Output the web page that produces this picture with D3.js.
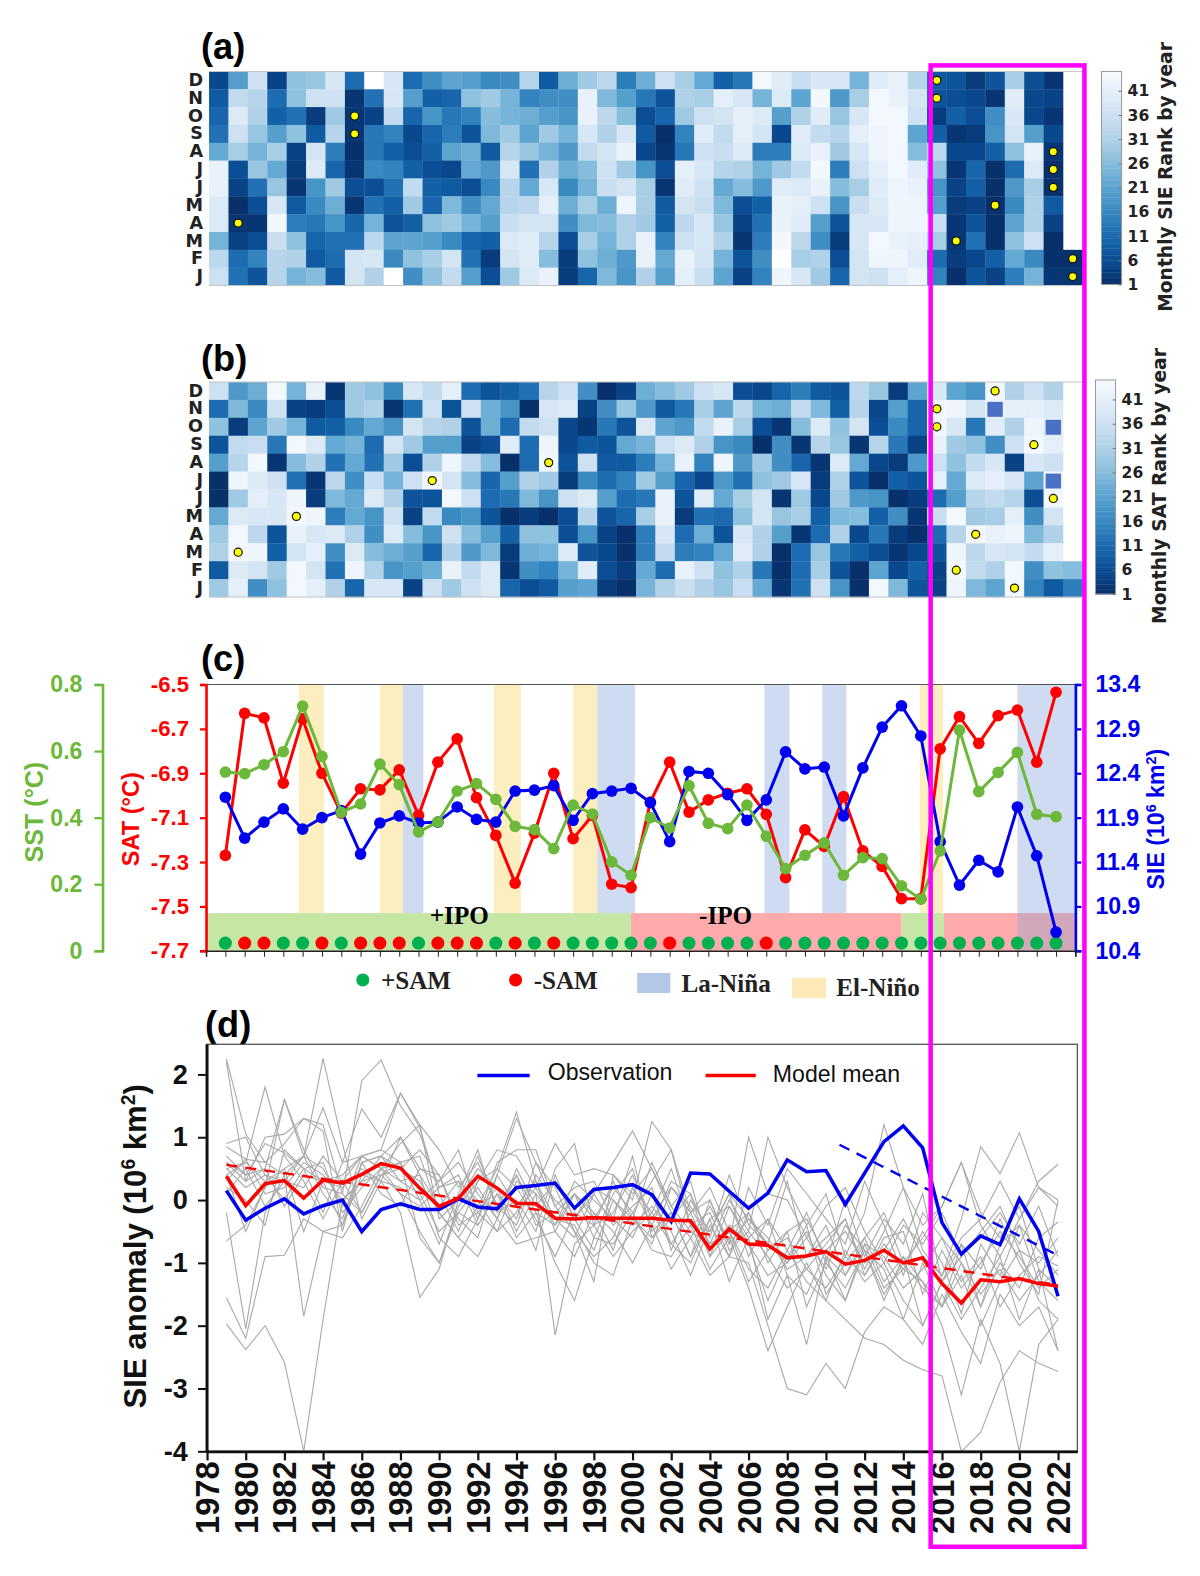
<!DOCTYPE html>
<html>
<head>
<meta charset="utf-8">
<script src="https://d3js.org/d3.v7.min.js"></script>
<style>
  html, body { margin: 0; padding: 0; background: #fff; }
  svg { display: block; }
</style>
</head>
<body>
<svg id="chart" width="1200" height="1576" viewBox="0 0 1194 1568" font-family="Liberation Sans, sans-serif"></svg>
<script>
// ── Data ──
const months = ['D', 'N', 'O', 'S', 'A', 'J', 'J', 'M', 'A', 'M', 'F', 'J'];
const heatYears = d3.range(1979, 2024);
const lineYears = d3.range(1979, 2023);
const rankTicks = [1, 6, 11, 16, 21, 26, 31, 36, 41];

// monthly rank, one row per month (top to bottom), 1979..2023
const sieRank = [
  [5,20,36,4,27,28,38,11,45,38,11,17,21,20,16,17,32,8,23,29,33,14,23,36,30,22,9,13,44,40,35,38,38,24,40,42,32,8,7,3,7,30,6,2,null],
  [8,34,32,11,27,36,36,2,12,38,20,9,10,27,29,24,15,17,17,42,25,20,13,7,31,30,41,38,24,39,21,44,19,30,44,42,37,7,6,5,2,40,5,4,null],
  [10,39,31,9,12,3,29,2,4,34,10,18,13,15,26,24,23,20,18,42,33,26,6,10,29,36,37,41,39,20,31,40,28,38,44,44,36,3,9,6,17,38,5,2,null],
  [12,36,28,20,27,8,32,2,13,15,5,10,14,7,25,29,21,29,24,38,31,38,8,1,15,40,34,41,37,5,40,34,32,41,43,44,21,9,2,3,18,37,20,5,null],
  [22,30,24,30,4,37,14,1,13,9,6,9,21,23,8,32,28,24,19,34,37,42,5,2,13,36,35,39,14,14,39,42,29,38,43,44,26,33,5,5,9,27,42,2,null],
  [42,6,28,22,3,39,10,2,16,15,9,6,5,22,19,38,12,31,23,26,36,29,18,6,41,38,32,31,24,29,34,44,14,36,41,44,40,27,2,10,1,11,39,1,null],
  [42,4,12,28,2,18,29,6,6,12,34,9,8,6,16,32,22,38,16,24,35,37,30,2,40,36,22,26,19,40,39,42,26,30,40,43,42,18,4,9,1,19,30,1,null],
  [39,1,6,38,8,16,23,2,12,9,29,10,25,17,22,32,33,41,23,30,23,43,30,8,37,35,25,6,9,42,41,36,18,35,39,43,43,20,3,4,1,16,31,8,null],
  [39,2,2,44,14,13,18,10,24,7,9,27,29,24,20,35,37,37,17,25,26,31,29,9,33,38,28,4,12,42,40,20,7,38,38,43,43,35,2,7,1,21,31,4,null],
  [24,4,6,35,27,10,12,12,33,21,21,20,16,10,9,39,40,32,6,30,24,31,42,15,36,38,31,2,14,44,33,17,3,38,44,42,41,30,2,12,1,27,36,1,null],
  [33,11,15,32,31,8,11,37,38,16,27,30,37,12,3,37,40,26,3,27,23,19,42,22,42,37,24,7,17,45,30,31,6,37,43,43,40,11,3,5,9,22,16,1,1],
  [36,12,7,32,24,26,8,37,31,45,17,27,34,20,6,29,39,42,3,10,25,18,31,20,41,35,21,4,15,43,38,29,10,37,36,41,43,15,1,7,4,14,24,2,2]
];
const satRank = [
  [36,19,23,44,24,42,2,29,27,16,38,34,41,11,7,9,12,32,36,17,1,4,23,26,29,36,38,6,5,10,14,8,7,33,28,3,21,38,21,18,44,31,36,31,null],
  [11,25,16,36,4,3,6,29,31,2,12,36,7,36,23,18,1,38,39,4,17,28,19,8,13,30,21,33,24,23,34,25,9,32,5,20,10,44,43,37,42,41,41,39,null],
  [27,3,21,29,24,8,9,16,22,18,37,32,31,7,23,11,34,36,5,2,13,7,39,21,19,34,42,30,6,2,26,39,27,37,6,16,10,44,38,13,40,31,43,40,null],
  [7,34,35,13,44,39,22,24,11,37,29,20,20,4,6,40,11,43,5,8,7,22,24,36,39,31,18,16,1,17,2,32,28,2,32,13,4,42,29,27,17,36,44,41,null],
  [20,32,44,2,26,31,12,22,12,29,6,31,43,34,26,1,11,44,7,36,8,8,14,24,42,15,43,19,29,17,10,2,39,22,5,3,19,36,27,34,38,4,38,36,null],
  [1,43,39,36,12,2,33,17,35,24,36,44,37,26,10,20,31,29,3,16,11,15,29,20,10,5,19,12,27,29,38,3,31,7,1,9,7,41,22,39,41,38,21,43,null],
  [1,29,41,38,43,3,25,22,39,31,7,7,44,36,11,13,25,18,36,39,20,11,13,42,7,40,22,30,37,2,29,5,29,19,18,1,3,11,20,32,34,32,6,44,null],
  [22,39,38,38,44,43,14,22,18,36,4,34,16,18,7,1,3,1,6,32,7,10,30,42,3,12,11,27,37,28,30,9,25,26,9,17,2,35,44,29,30,41,17,37,null],
  [29,44,33,7,42,38,39,31,17,39,26,18,36,26,20,9,27,27,6,18,4,1,14,38,11,23,7,38,31,20,2,11,31,5,13,3,1,11,32,44,42,43,25,31,null],
  [31,44,43,9,37,41,17,39,26,23,20,10,31,19,25,3,23,24,39,7,5,1,14,34,14,15,22,40,31,1,11,28,13,9,6,2,5,7,43,33,38,37,34,41,null],
  [8,39,37,29,44,37,12,43,31,18,20,23,42,34,39,2,17,15,24,40,6,3,22,11,42,36,27,31,13,1,11,30,7,1,21,5,9,4,44,34,31,44,17,27,26],
  [29,41,17,27,44,41,31,10,38,38,4,36,29,36,39,10,6,8,20,21,3,1,24,31,35,31,28,35,22,2,12,36,18,1,44,25,7,4,43,25,21,44,15,8,14]
];
// [year, row] of yellow dots
const sieDots = [[2016,0],[2016,1],[1986,2],[1986,3],[1980,8],[2022,4],[2022,5],[2022,6],[2019,7],[2017,9],[2023,10],[2023,11]];
const satDots = [[1980,9],[1983,7],[1990,5],[1996,4],[2019,0],[2016,1],[2016,2],[2021,3],[2022,6],[2018,8],[2017,10],[2020,11]];
const satSquares = [[2019,1],[2022,2],[2022,5]];

const sat = [-7.27,-6.63,-6.65,-6.945,-6.655,-6.9,-7.08,-6.97,-6.975,-6.885,-7.09,-6.85,-6.745,-7.01,-7.18,-7.395,-7.17,-6.9,-7.195,-7.09,-7.4,-7.415,-7.03,-6.85,-7.075,-7.02,-6.99,-6.97,-7.085,-7.37,-7.155,-7.23,-7.005,-7.25,-7.32,-7.465,-7.465,-6.79,-6.645,-6.765,-6.64,-6.615,-6.85,-6.535];
const sst = [.537,.532,.559,.598,.735,.584,.416,.441,.561,.499,.357,.387,.48,.502,.455,.374,.364,.307,.438,.411,.267,.227,.4,.369,.496,.383,.367,.438,.344,.247,.287,.324,.227,.28,.277,.195,.155,.3,.663,.478,.536,.596,.41,.403];
const sie = [12.13,11.67,11.85,12.0,11.77,11.9,11.98,11.49,11.84,11.92,11.84,11.85,12.02,11.88,11.85,12.2,12.21,12.26,11.87,12.17,12.2,12.23,12.07,11.63,12.42,12.4,12.16,11.87,12.1,12.64,12.45,12.47,11.92,12.46,12.92,13.16,12.82,11.63,11.14,11.42,11.29,12.02,11.47,10.61];
// 1 = +SAM, 0 = -SAM
const sam = [1,0,0,1,1,0,1,0,0,0,1,0,0,0,1,0,1,0,1,1,1,1,1,0,1,1,1,1,0,1,1,1,1,1,1,1,1,1,1,1,1,1,1,1];
const elNino = [[1982.8,1984.1],[1987,1988.2],[1992.9,1994.3],[1997,1998.25],[2014.95,2016.15]];
const laNina = [[1988.2,1989.25],[1998.25,2000.2],[2006.9,2008.2],[2009.9,2011.15],[2020,2023]];
const ipoPos = [[1978,2000],[2014,2016.2]];
const ipoNeg = [[2000,2014],[2016.2,2023]];

const obs = [.15,-.32,-.13,.02,-.22,-.09,0,-.5,-.15,-.06,-.15,-.15,.02,-.11,-.14,.2,.23,.27,-.13,.17,.2,.245,.085,-.34,.43,.415,.14,-.13,.11,.64,.45,.47,-.07,.43,.93,1.18,.83,-.36,-.86,-.57,-.71,.02,-.5,-1.53];
const modelMean = [.38,-.09,.26,.31,.03,.32,.27,.41,.58,.51,.19,-.1,.03,.38,.19,-.05,-.06,-.29,-.3,-.28,-.29,-.29,-.29,-.32,-.33,-.78,-.46,-.7,-.72,-.92,-.89,-.82,-1.02,-.96,-.8,-1.0,-.92,-1.33,-1.64,-1.27,-1.3,-1.25,-1.33,-1.37];
const modelTrend = [[1979,.56],[2022,-1.35]];
const obsTrend = [[2010.7,.88],[2021.8,-.85]];
// individual model runs
const models = [
  [2.25,1.05,0.6,0.4,0.7,0.5,-0.1,0.7,0.8,1.7,1.15,0.1,-0.5,0.3,0.5,0.2,-0.3,-0.9,-0.2,-0.4,0.3,-0.3,-0.7,0.2,-0.2,-0.9,-0.5,-1.3,-0.8,-0.6,-1.1,-1.4,-0.9,-1.2,-0.7,-1.1,-1.3,-1.7,-1.0,-1.5,-1.1,-1.6,-1.2,-0.8],
  [2.2,0.3,0.5,1.6,0.8,0.2,0.1,-0.2,0.4,0.6,0.7,-0.2,-0.6,-0.1,0.5,1.4,0.3,-0.3,-0.6,0.1,0.6,1.1,0.5,-0.2,-0.9,-0.3,-0.1,-0.7,-1.2,-1.0,-0.4,-1.5,-1.0,-0.6,-1.3,-0.9,-2.0,-1.3,-0.7,-1.7,-1.0,-1.4,-0.6,-0.35],
  [0.9,1.0,0.4,0.3,0.7,2.25,0.9,-0.3,0.3,1.0,0.4,-0.1,0.3,0.0,-0.5,-0.2,0.2,-0.4,0.1,-0.3,0.2,-0.2,0.3,0.8,-0.4,-0.5,0.1,-0.3,-0.7,-1.0,-0.6,-1.1,-0.4,-0.8,-1.5,-1.0,-1.4,-1.7,-0.7,-1.1,-0.3,-1.0,-1.5,0.0],
  [0.4,0.6,1.8,0.7,0.3,-0.3,0.3,0.7,0.5,0.9,1.2,-0.3,0.0,0.7,-0.1,0.4,-0.4,-0.2,0.1,-0.6,0.1,0.5,-0.5,-0.2,-0.6,-0.1,-0.7,-0.3,-0.6,-1.1,-0.9,-0.4,-1.2,-0.7,-0.9,-1.4,-1.1,-0.6,-1.3,-0.9,-1.7,-1.2,-0.9,-1.05],
  [0.6,0.3,1.0,1.05,1.3,1.2,0.1,1.9,2.23,1.5,1.05,0.2,0.4,-0.3,0.6,0.8,0.8,-0.1,0.2,0.3,-0.3,0.7,-0.6,-0.3,0.1,-0.9,-0.1,-0.6,-0.3,-1.2,-1.5,-0.8,-0.5,-1.0,-0.8,-0.3,-0.9,-1.2,-0.6,-0.3,0.3,-0.3,0.3,0.57],
  [-0.65,-0.4,0.2,1.6,0.7,1.47,0.6,1.45,1.0,1.7,1.2,0.8,0.2,0.6,-0.1,-0.4,0.4,0.0,-0.3,0.2,0.0,-0.3,0.6,-0.1,0.3,-0.8,-0.4,-0.7,-1.6,-0.9,-0.5,-1.2,-1.6,-0.7,-1.4,-1.1,-0.5,-1.0,-1.8,-0.7,-1.2,-0.4,-1.3,-1.6],
  [-1.55,-2.2,-0.9,-0.88,-0.3,-0.5,-0.6,-0.1,0.5,0.1,-0.5,-1.0,-0.2,-0.4,0.1,-0.6,-0.2,-1.0,-1.6,-0.6,-0.7,-0.2,-0.8,-0.9,-0.4,-1.1,-0.6,-1.4,-2.4,-1.7,-1.0,-1.6,-0.8,-1.3,-1.0,-1.6,-2.0,-1.3,-1.9,-1.4,-0.9,-1.9,-1.1,-2.4],
  [-0.2,-2.05,-0.2,0.4,-1.85,-0.5,-0.4,0.4,0.3,-0.2,-1.55,-1.1,0.0,0.5,0.2,-0.5,0.1,-2.15,-0.7,-0.4,-0.9,-0.5,-0.2,-0.7,-1.0,-0.3,-1.3,-0.6,-1.9,-1.2,-2.3,-0.9,-1.6,-0.8,-1.1,-1.9,-1.0,-1.7,-1.2,-2.0,-1.3,-0.8,-1.6,-1.9],
  [-1.97,-2.38,-2.0,-2.58,-4.0,-1.9,0.0,0.3,0.7,0.3,0.1,-0.5,-0.2,0.2,-0.3,-0.7,-0.6,-0.5,-0.9,-0.2,-0.5,-1.0,-0.4,-1.1,-0.6,-1.2,-0.9,-1.0,-2.0,-3.0,-3.1,-2.6,-3.0,-2.1,-1.7,-1.9,-2.3,-1.5,-2.1,-2.6,-1.5,-2.0,-1.7,-2.4],
  [0.7,0.4,0.9,0.75,0.5,0.3,0.4,0.7,0.8,0.6,-0.6,-1.0,-0.1,0.3,0.8,0.7,0.2,0.9,0.4,0.5,0.4,0.1,0.5,-0.1,-0.5,-0.7,-0.5,-1.1,-1.4,-0.8,-1.3,-1.6,-1.9,-2.2,-2.3,-2.55,-2.7,-2.8,-4.0,-3.7,-2.9,-2.4,-2.6,-2.73],
  [0.5,0.6,0.3,0.5,0.7,0.1,-0.3,0.6,0.7,0.5,0.3,-0.2,-0.6,-0.9,-0.3,0.5,-0.1,0.3,-0.3,-0.8,0.0,-0.4,-0.1,-0.5,-1.2,-0.4,-0.9,-0.2,-1.0,-0.5,-1.7,-1.0,-1.4,-0.8,-1.6,-0.9,-1.3,-2.0,-3.1,-1.9,-2.6,-4.0,-2.3,-1.9],
  [0.3,0.65,0.1,0.2,0.6,0.4,0.0,0.3,0.4,0.5,0.8,0.4,-0.3,-0.6,0.4,1.3,0.6,0.2,-0.5,-1.3,0.4,0.0,1.25,0.8,-0.2,0.0,-0.7,1.0,0.1,0.0,-0.6,-0.1,0.2,-0.5,-1.0,-0.4,-0.7,-0.2,-0.9,-0.5,-0.1,-0.8,-1.0,-0.6],
  [0.5,0.2,0.4,0.0,0.5,-0.2,0.6,0.7,0.5,0.6,0.0,-0.7,0.1,0.8,-0.2,0.0,-0.5,0.5,0.9,-0.4,-0.2,0.4,-0.3,0.2,-0.1,-0.7,0.0,-0.5,1.0,0.2,-0.4,0.1,-0.9,-0.2,1.2,0.2,-0.4,-0.1,0.6,-0.2,-0.6,-0.1,-1.1,-1.4],
  [0.2,0.0,-0.4,0.8,0.5,0.6,-0.2,0.2,0.5,0.3,0.4,-0.6,-0.9,-0.3,0.4,-0.1,0.3,-0.5,0.1,-0.2,-0.8,0.2,-0.4,0.3,0.1,-0.6,0.4,-0.4,-0.7,0.3,-0.9,-0.6,-0.3,-1.1,-0.5,0.2,-0.8,-1.2,-0.3,0.85,0.42,1.07,0.2,0.0],
  [0.6,0.4,0.5,-0.1,0.4,0.3,0.2,0.5,0.3,0.2,0.0,0.3,0.6,0.1,-0.3,0.4,-0.2,-0.4,0.3,0.0,-0.3,-0.6,0.1,-0.7,-0.2,0.2,-0.5,-0.2,-0.8,-0.5,-0.3,-0.9,-1.2,-0.6,-0.2,-1.0,-0.6,-0.1,0.6,-0.4,-0.9,-0.3,0.2,-0.1],
  [0.4,-0.5,0.2,0.5,-0.5,0.3,-0.4,0.6,0.1,-0.1,0.5,0.4,-0.4,-0.2,-0.5,0.3,0.1,-0.3,-0.4,-1.0,-1.2,-0.3,-0.6,-0.2,-0.9,0.0,-0.8,-0.5,-0.9,-1.4,-1.1,-0.7,-0.3,-1.2,-0.6,-0.5,-1.5,-0.8,-1.4,-1.0,-0.5,-0.9,-1.4,-1.1],
  [0.1,0.5,-0.1,0.3,0.2,0.7,0.3,-0.2,0.4,0.1,-0.1,0.2,0.3,-0.4,0.1,-0.3,0.6,-0.1,-0.5,-0.9,-0.6,0.2,-0.2,0.5,-0.4,-0.2,-0.9,0.2,-0.4,0.5,0.1,-0.3,-0.7,0.3,-0.4,-1.2,-0.2,-0.6,-1.0,-1.7,-0.7,-0.4,-0.8,-1.2],
  [0.85,0.65,0.6,0.9,1.3,1.1,-0.5,0.6,0.7,1.0,0.5,0.3,0.8,-0.2,0.2,-0.1,-0.8,0.4,-0.3,0.1,-0.4,-0.1,0.2,-0.8,0.0,-0.5,0.1,-0.9,-0.3,-0.8,-0.2,-1.0,0.0,-0.9,-0.3,-0.7,0.1,-1.3,-0.9,-0.6,-0.2,-0.7,-0.1,-0.9]
];
const dTicksY = [2, 1, 0, -1, -2, -3, -4];

// ── Shared helpers ──
const SANS = '"Liberation Sans", sans-serif';
const DEJAVU = '"DejaVu Sans", sans-serif';
const SERIF = '"Liberation Serif", serif';
const svg = d3.select('#chart');
const line = (x, y) => d3.line().x((d, i) => x(lineYears[i])).y(d => y(d));

function panelTitle(label, x, y) {
  svg.append('text').attr('x', x).attr('y', y).attr('font-size', 36).attr('font-weight', 700).text(label);
}

function heatPanel(rows, dots, squares, top, bottom, barX, barTop, barBottom, barLabel, labelX) {
  const x = d3.scaleBand().domain(heatYears).range([208, 1077]);
  const y = d3.scaleBand().domain(d3.range(12)).range([top, bottom]);
  const colour = r => r >= 45 ? '#fff' : d3.interpolateBlues(1 - (r - 1) / 44);
  const g = svg.append('g');
  rows.forEach((row, i) => {
    g.selectAll(null).data(row.map((r, j) => ({ r, year: heatYears[j] })).filter(d => d.r !== null))
      .enter().append('rect')
      .attr('x', d => x(d.year)).attr('y', y(i))
      .attr('width', x.bandwidth() + 0.3).attr('height', y.bandwidth() + 0.3)
      .attr('fill', d => colour(d.r));
  });
  g.append('path').attr('d', `M208,${top}H1077M208,${bottom}H1077`)
    .attr('fill', 'none').attr('stroke', '#c4c4c4').attr('stroke-width', 1);

  // small blue squares drawn over a few cells of (b)
  g.selectAll(null).data(squares).enter().append('rect')
    .attr('x', d => x(d[0]) + 2).attr('y', d => y(d[1]) + 2)
    .attr('width', x.bandwidth() - 4).attr('height', y.bandwidth() - 3)
    .attr('fill', '#4a70c4');

  g.selectAll(null).data(dots).enter().append('circle')
    .attr('cx', d => x(d[0]) + x.bandwidth() / 2).attr('cy', d => y(d[1]) + y.bandwidth() / 2)
    .attr('r', 4).attr('fill', '#ffff00').attr('stroke', '#111').attr('stroke-width', 1.2);

  const yAxis = svg.append('g').attr('transform', 'translate(202,0)')
    .call(d3.axisLeft(y).tickSize(0).tickPadding(0).tickFormat(i => months[i]));
  yAxis.select('.domain').remove();
  yAxis.selectAll('text').attr('font-family', DEJAVU).attr('font-weight', 700).attr('font-size', 17.5).attr('fill', '#222');

  // colour bar
  const rankY = d3.scaleLinear().domain([1, 45]).range([barBottom, barTop]);
  const steps = d3.range(1, 45, 0.5);
  svg.append('g').selectAll('rect').data(steps).enter().append('rect')
    .attr('x', barX).attr('width', 20)
    .attr('y', d => rankY(d + 0.5)).attr('height', (barBottom - barTop) / 88 + 0.4)
    .attr('fill', d => colour(d));
  svg.append('rect').attr('x', barX).attr('y', barTop).attr('width', 20).attr('height', barBottom - barTop)
    .attr('fill', 'none').attr('stroke', '#999').attr('stroke-width', 1);
  const barAxis = svg.append('g').attr('transform', `translate(${barX + 20},0)`)
    .call(d3.axisRight(rankY).tickValues(rankTicks).tickSize(3).tickPadding(4));
  barAxis.select('.domain').remove();
  barAxis.selectAll('line').attr('x2', -3).attr('stroke', '#777');
  barAxis.selectAll('text').attr('x', 6).attr('font-family', DEJAVU).attr('font-weight', 700).attr('font-size', 15.5).attr('fill', '#222');
  svg.append('text').attr('transform', `translate(${labelX},${(barTop + barBottom) / 2 - 1}) rotate(-90)`)
    .attr('text-anchor', 'middle').attr('font-family', DEJAVU).attr('font-weight', 700).attr('font-size', 18.6)
    .attr('fill', '#222').text(barLabel);
}

// ── (a) and (b) ──
panelTitle('(a)', 200, 59);
heatPanel(sieRank, sieDots, [], 71, 284, 1096, 71, 283, 'Monthly SIE Rank by year', 1166);
panelTitle('(b)', 200, 369);
heatPanel(satRank, satDots, satSquares, 380, 594, 1090, 378, 591, 'Monthly SAT Rank by year', 1160);

// ── (c) ──
panelTitle('(c)', 200, 668);
const cTop = 681, cBottom = 946;
const xC = d3.scaleLinear().domain([1978, 2023]).range([205, 1070]);
const ySat = d3.scaleLinear().domain([-7.7, -6.5]).range([cBottom, cTop]);
const ySst = d3.scaleLinear().domain([0, 0.8]).range([cBottom, cTop]);
const ySie = d3.scaleLinear().domain([10.4, 13.4]).range([cBottom, cTop]);
const bandTop = ySat(-7.53);

const shade = (spans, fill, y0, y1) => svg.append('g').selectAll('rect').data(spans).enter().append('rect')
  .attr('x', d => xC(d[0])).attr('width', d => xC(d[1]) - xC(d[0]))
  .attr('y', y0).attr('height', y1 - y0).attr('fill', fill);

shade(elNino, '#fdeebf', cTop, bandTop);
shade(laNina, '#cfdbf0', cTop, bandTop);
shade(ipoPos, '#c6e6a6', bandTop, cBottom);
shade(ipoNeg, '#ffabad', bandTop, cBottom);
shade(laNina.slice(-1), '#8fa3cc', bandTop, cBottom).attr('opacity', 0.4);

svg.append('line').attr('x1', 205).attr('x2', 1070).attr('y1', cTop).attr('y2', cTop).attr('stroke', '#555').attr('stroke-width', 1);

svg.append('text').attr('x', 457).attr('y', 919).attr('text-anchor', 'middle')
  .attr('font-family', SERIF).attr('font-weight', 700).attr('font-size', 25).text('+IPO');
svg.append('text').attr('x', 722).attr('y', 919).attr('text-anchor', 'middle')
  .attr('font-family', SERIF).attr('font-weight', 700).attr('font-size', 25).text('-IPO');

svg.append('g').selectAll('circle').data(sam).enter().append('circle')
  .attr('cx', (d, i) => xC(lineYears[i])).attr('cy', ySat(-7.665)).attr('r', 6.5)
  .attr('fill', d => d ? '#00b050' : '#ff0000');

function series(values, scale, colour) {
  const g = svg.append('g');
  g.append('path').datum(values).attr('d', line(xC, scale))
    .attr('fill', 'none').attr('stroke', colour).attr('stroke-width', 3);
  g.selectAll('circle').data(values).enter().append('circle')
    .attr('cx', (d, i) => xC(lineYears[i])).attr('cy', d => scale(d)).attr('r', 5.8).attr('fill', colour);
}
series(sat, ySat, '#ff0000');
series(sie, ySie, '#0000f0');
series(sst, ySst, '#6cb83a');

function styleAxis(g, colour, size) {
  g.selectAll('.domain').attr('stroke', colour).attr('stroke-width', 2.6);
  g.selectAll('line').attr('stroke', colour).attr('stroke-width', 2.2);
  g.selectAll('text').attr('fill', colour).attr('font-size', size).attr('font-weight', 700)
    .attr('font-family', SANS);
}
const oneDecimal = d => d.toFixed(1);
styleAxis(svg.append('g').attr('transform', 'translate(102,0)')
  .call(d3.axisLeft(ySst).tickValues([0, 0.2, 0.4, 0.6, 0.8]).tickFormat(d => d === 0 ? '0' : oneDecimal(d)).tickSize(8).tickSizeOuter(8).tickPadding(12)), '#6cb83a', 23);
styleAxis(svg.append('g').attr('transform', 'translate(205,0)')
  .call(d3.axisLeft(ySat).tickValues(d3.range(-7.7, -6.4, 0.2)).tickFormat(oneDecimal).tickSize(6).tickSizeOuter(6).tickPadding(11)), '#ff0000', 22);
styleAxis(svg.append('g').attr('transform', 'translate(1070,0)')
  .call(d3.axisRight(ySie).tickValues(d3.range(10.4, 13.5, 0.5)).tickFormat(oneDecimal).tickSize(6).tickSizeOuter(6).tickPadding(14)), '#0000f0', 23);
const cAxis = svg.append('g').attr('transform', `translate(0,${cBottom})`)
  .call(d3.axisBottom(xC).tickValues(d3.range(1978, 2024)).tickFormat('').tickSize(6).tickSizeOuter(6));
cAxis.selectAll('line').attr('stroke', '#222');
cAxis.select('.domain').attr('stroke', '#222').attr('stroke-width', 1.5);

function vLabel(x, y, colour, size, parts) {
  const t = svg.append('text').attr('transform', `translate(${x},${y}) rotate(-90)`)
    .attr('text-anchor', 'middle').attr('fill', colour).attr('font-size', size).attr('font-weight', 700);
  parts.forEach(p => {
    const s = t.append('tspan').text(p[0]);
    if (p[1]) s.attr('dy', -size * 0.35).attr('font-size', size * 0.62);
    else if (p[2]) s.attr('dy', size * 0.35);
  });
}
vLabel(43, 808, '#6cb83a', 25, [['SST (°C)']]);
vLabel(138, 815, '#ff0000', 23.5, [['SAT (°C)']]);
vLabel(1158, 815, '#0000f0', 23, [['SIE (10'], ['6', 1], [' km', 0, 1], ['2', 1], [')', 0, 1]]);

// legend of (c)
const legendFont = t => t.attr('font-family', SERIF).attr('font-weight', 700).attr('font-size', 25).attr('fill', '#222');
svg.append('circle').attr('cx', 361).attr('cy', 975).attr('r', 6.5).attr('fill', '#00b050');
legendFont(svg.append('text').attr('x', 379).attr('y', 984).text('+SAM'));
svg.append('circle').attr('cx', 513).attr('cy', 975).attr('r', 6.5).attr('fill', '#ff0000');
legendFont(svg.append('text').attr('x', 531).attr('y', 984).text('-SAM'));
svg.append('rect').attr('x', 634).attr('y', 968).attr('width', 33).attr('height', 20).attr('fill', '#b4c7e7');
legendFont(svg.append('text').attr('x', 678).attr('y', 987).text('La-Niña'));
svg.append('rect').attr('x', 788).attr('y', 973).attr('width', 34).attr('height', 20).attr('fill', '#fdeab8');
legendFont(svg.append('text').attr('x', 832).attr('y', 991).text('El-Niño'));

// ── (d) ──
panelTitle('(d)', 204, 1032);
const dLeft = 206, dRight = 1072, dTop = 1039, dBottom = 1444;
const xD = d3.scaleLinear().domain([1978, 2023]).range([dLeft, dRight]);
const yD = d3.scaleLinear().domain([-4, 2]).range([dBottom, 1069]);

svg.append('rect').attr('x', dLeft).attr('y', dTop).attr('width', dRight - dLeft).attr('height', dBottom - dTop)
  .attr('fill', 'none').attr('stroke', '#555').attr('stroke-width', 1.3);

const lineD = line(xD, yD);
svg.append('g').selectAll('path').data(models).enter().append('path')
  .attr('d', lineD).attr('fill', 'none').attr('stroke', '#a9a9a9').attr('stroke-width', 1.1);

const trend = pts => d3.line().x(d => xD(d[0])).y(d => yD(d[1]))(pts);
svg.append('path').attr('d', trend(modelTrend)).attr('fill', 'none').attr('stroke', '#ff0000').attr('stroke-width', 2.4).attr('stroke-dasharray', '11,8');
svg.append('path').attr('d', trend(obsTrend)).attr('fill', 'none').attr('stroke', '#0000f0').attr('stroke-width', 2.4).attr('stroke-dasharray', '11,8');
svg.append('path').datum(obs).attr('d', lineD).attr('fill', 'none').attr('stroke', '#0000f0').attr('stroke-width', 3.5);
svg.append('path').datum(modelMean).attr('d', lineD).attr('fill', 'none').attr('stroke', '#ff0000').attr('stroke-width', 3.5);

const dAxisY = svg.append('g').attr('transform', `translate(${dLeft},0)`)
  .call(d3.axisLeft(yD).tickValues(dTicksY).tickFormat(d => String(d)).tickSize(9).tickSizeOuter(0).tickPadding(10));
dAxisY.selectAll('line').attr('stroke', '#111').attr('stroke-width', 2);
dAxisY.select('.domain').attr('stroke', '#111').attr('stroke-width', 3).attr('d', `M0,${dTop}V${dBottom}`);
dAxisY.selectAll('text').attr('font-family', SANS).attr('font-size', 27).attr('font-weight', 700).attr('fill', '#111');

const dAxisX = svg.append('g').attr('transform', `translate(0,${dBottom})`)
  .call(d3.axisBottom(xD).tickValues(d3.range(1978, 2023, 2)).tickFormat(d => String(d)).tickSize(9).tickSizeOuter(0));
dAxisX.selectAll('line').attr('stroke', '#111').attr('stroke-width', 2.2);
dAxisX.select('.domain').attr('stroke', '#111').attr('stroke-width', 2.6);
dAxisX.selectAll('text').attr('font-family', SANS).attr('font-size', 32.5).attr('font-weight', 700).attr('fill', '#111')
  .attr('text-anchor', 'end').attr('transform', 'rotate(-90)').attr('x', -10).attr('y', 0).attr('dy', '0.35em');

vLabel(145, 1240, '#111', 31, [['SIE anomaly (10'], ['6', 1], [' km', 0, 1], ['2', 1], [')', 0, 1]]);

// legend of (d)
svg.append('line').attr('x1', 475).attr('x2', 527).attr('y1', 1070).attr('y2', 1070).attr('stroke', '#0000f0').attr('stroke-width', 3.5);
svg.append('text').attr('x', 545).attr('y', 1075).attr('font-size', 23).attr('fill', '#111').text('Observation');
svg.append('line').attr('x1', 702).attr('x2', 752).attr('y1', 1070).attr('y2', 1070).attr('stroke', '#ff0000').attr('stroke-width', 3.5);
svg.append('text').attr('x', 769).attr('y', 1077).attr('font-size', 23).attr('fill', '#111').text('Model mean');

// magenta highlight round the post-2016 years
svg.append('rect').attr('x', 926).attr('y', 65).attr('width', 153).attr('height', 1474)
  .attr('fill', 'none').attr('stroke', '#ff00ff').attr('stroke-width', 4.5);
</script>
</body>
</html>
